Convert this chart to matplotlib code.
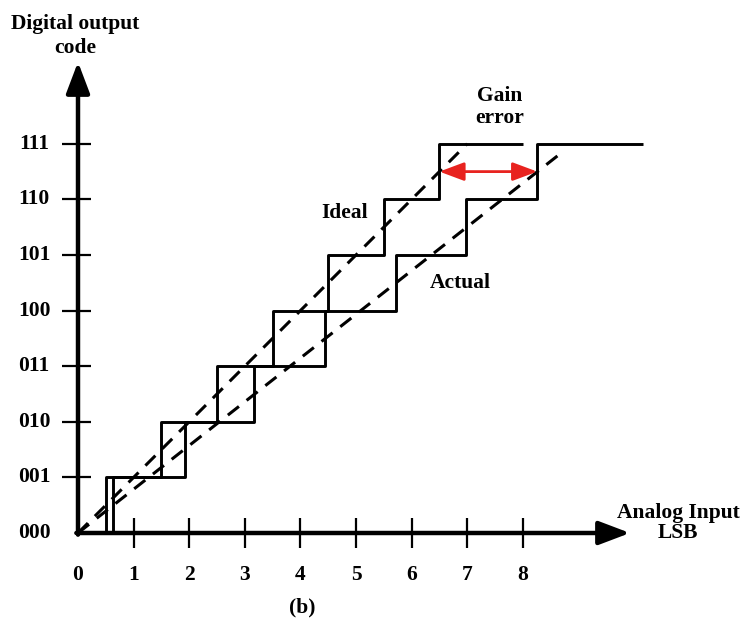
import matplotlib
matplotlib.use("Agg")
import matplotlib.pyplot as plt

# ---- data ----
codes = ["000", "001", "010", "011", "100", "101", "110", "111"]
x_tick_labels = ["0", "1", "2", "3", "4", "5", "6", "7", "8"]
ideal_transitions = [0.5, 1.5, 2.5, 3.5, 4.5, 5.5, 6.5]
ideal_end = 8.0
actual_transitions = [0.63, 1.93, 3.17, 4.45, 5.72, 6.98, 8.26]
actual_end = 10.16
ideal_line_end = (7.0, 7.0)
actual_line_end = (8.76, 6.89)

plt.rcParams['font.family'] = ['Liberation Serif', 'DejaVu Serif']
plt.rcParams['font.weight'] = 'bold'
plt.rcParams['lines.solid_capstyle'] = 'butt'

W, H = 741, 619
fig = plt.figure(figsize=(W / 100, H / 100), dpi=100)
ax = fig.add_axes([0, 0, 1, 1])
ax.set_axis_off()
px = 55.6
x0, y0 = 78, 533
ax.set_xlim(-x0 / px, (W - x0) / px)
ax.set_ylim((y0 - H) / px, y0 / px)

FS = 15.5

# staircases
levels = list(range(len(codes)))
ix = [0.0] + ideal_transitions + [ideal_end]
iy = levels + [levels[-1]]
ax.step(ix, iy, where='post', color='black', lw=2.1, zorder=3)
axx = [0.0] + actual_transitions + [actual_end]
ax.step(axx, iy, where='post', color='black', lw=2.1, zorder=3)

# dashed straight lines
ax.plot([0, ideal_line_end[0]], [0, ideal_line_end[1]], color='black', lw=2.2,
        dashes=(4.6, 3.2), zorder=3)
ax.plot([0, actual_line_end[0]], [0, actual_line_end[1]], color='black', lw=2.2,
        dashes=(4.6, 3.2), zorder=3)

# axes with arrows
ax.annotate('', xy=(0, (y0 - 62) / px), xytext=(0, -0.03),
            arrowprops=dict(arrowstyle='-|>,head_length=0.95,head_width=0.36',
                            mutation_scale=20, lw=3.2, color='black',
                            shrinkA=0, shrinkB=0), zorder=4)
ax.annotate('', xy=((630 - x0) / px, 0), xytext=(-0.03, 0),
            arrowprops=dict(arrowstyle='-|>,head_length=0.95,head_width=0.36',
                            mutation_scale=20, lw=3.2, color='black',
                            shrinkA=0, shrinkB=0), zorder=4)

# ticks
for i in range(1, len(x_tick_labels)):
    ax.plot([i, i], [-0.27, 0.27], color='black', lw=1.6, zorder=2)
for j in range(1, len(codes)):
    ax.plot([-0.29, 0.24], [j, j], color='black', lw=1.6, zorder=2)

# tick labels
for i, lab in enumerate(x_tick_labels):
    ax.text(i, -0.755, lab, ha='center', va='center', fontsize=FS, fontweight='bold')
for j, lab in enumerate(codes):
    ax.text(-0.79, j, lab, ha='center', va='center', fontsize=FS, fontweight='bold')

# red gain error arrow
ax.annotate('', xy=(ideal_transitions[-1], 6.5), xytext=(actual_transitions[-1], 6.5),
            arrowprops=dict(arrowstyle='<|-|>,head_length=0.75,head_width=0.28',
                            mutation_scale=20, lw=2.0, color='#e8231f',
                            shrinkA=0, shrinkB=0), zorder=5)

# labels
def P(xp, yp):
    return ((xp - x0) / px, (y0 - yp) / px)

ax.text(*P(75, 36), "Digital output\ncode", ha='center', va='center',
        fontsize=FS, fontweight='bold', linespacing=1.3)
ax.text(*P(678, 523), "Analog Input\nLSB", ha='center', va='center',
        fontsize=FS, fontweight='bold', linespacing=1.0)
ax.text(*P(500, 107), "Gain\nerror", ha='center', va='center',
        fontsize=FS, fontweight='bold', linespacing=1.1)
ax.text(*P(345, 213), "Ideal", ha='center', va='center', fontsize=FS, fontweight='bold')
ax.text(*P(460, 283), "Actual", ha='center', va='center', fontsize=FS, fontweight='bold')
ax.text(*P(302, 607), "(b)", ha='center', va='center', fontsize=FS, fontweight='bold')

fig.savefig("out.png", dpi=100, facecolor='white')
